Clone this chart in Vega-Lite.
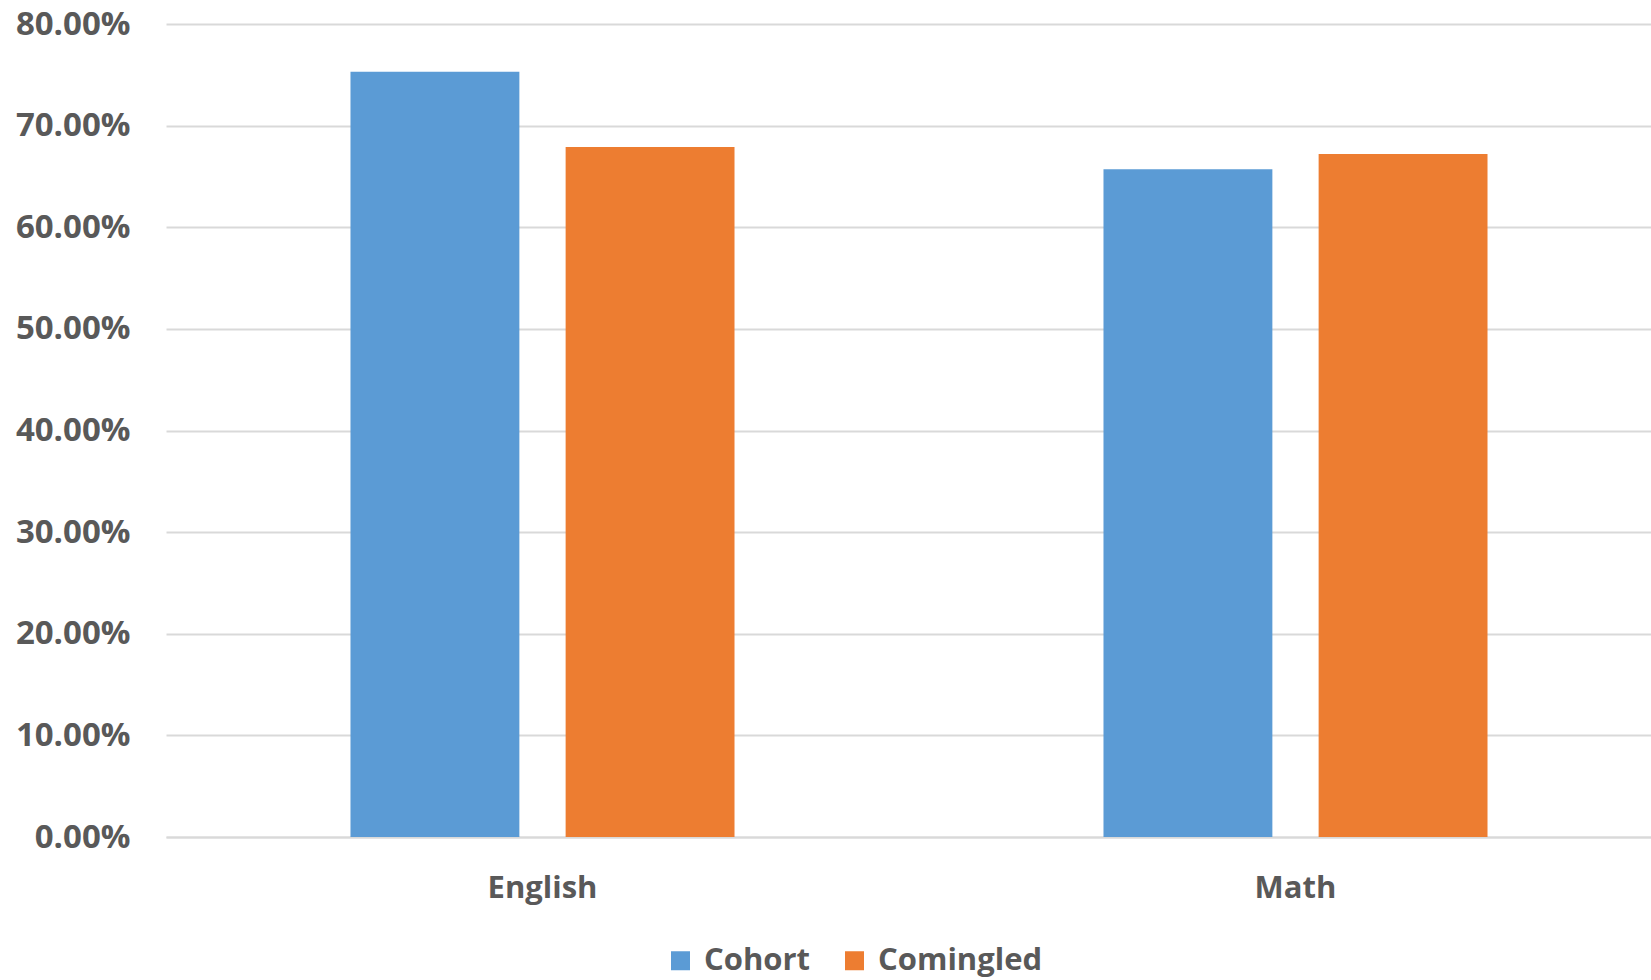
{
  "$schema": "https://vega.github.io/schema/vega-lite/v6.json",
  "width": 1485,
  "height": 813,
  "autosize": {"type": "none"},
  "padding": {"left": 166, "top": 24, "right": 0, "bottom": 143},
  "background": "white",
  "config": {
    "view": {"stroke": null},
    "font": "Open Sans"
  },
  "data": {
    "values": [
      {"subject": "English", "group": "Cohort", "value": 0.753},
      {"subject": "English", "group": "Comingled", "value": 0.679},
      {"subject": "Math", "group": "Cohort", "value": 0.657},
      {"subject": "Math", "group": "Comingled", "value": 0.672}
    ]
  },
  "mark": {"type": "bar"},
  "encoding": {
    "x": {
      "field": "subject",
      "type": "nominal",
      "scale": {"range": [0, 1506], "paddingInner": 0.49, "paddingOuter": 0.245},
      "axis": {
        "title": null,
        "labelAngle": 0,
        "labelFont": "Open Sans",
        "labelFontWeight": "bold",
        "labelFontSize": 31,
        "labelColor": "#595959",
        "labelPadding": 36,
        "ticks": false,
        "domainColor": "#d9d9d9",
        "domainWidth": 2
      }
    },
    "xOffset": {
      "field": "group",
      "type": "nominal",
      "scale": {"paddingInner": 0.215, "paddingOuter": 0}
    },
    "y": {
      "field": "value",
      "type": "quantitative",
      "scale": {"domain": [0, 0.8], "nice": false},
      "axis": {
        "title": null,
        "format": ".2%",
        "values": [0, 0.1, 0.2, 0.3, 0.4, 0.5, 0.6, 0.7, 0.8],
        "domain": false,
        "ticks": false,
        "gridColor": "#d9d9d9",
        "gridWidth": 2,
        "labelFont": "Open Sans",
        "labelFontWeight": "bold",
        "labelFontSize": 33,
        "labelColor": "#595959",
        "labelPadding": 36
      }
    },
    "color": {
      "field": "group",
      "type": "nominal",
      "scale": {"domain": ["Cohort", "Comingled"], "range": ["#5B9BD5", "#ED7D31"]},
      "legend": {
        "title": null,
        "orient": "none",
        "direction": "horizontal",
        "legendX": 499,
        "legendY": 921,
        "symbolType": "square",
        "symbolSize": 361,
        "symbolStrokeWidth": 0,
        "labelFont": "Open Sans",
        "labelFontWeight": "bold",
        "labelFontSize": 31,
        "labelColor": "#595959",
        "labelOffset": 8,
        "labelLimit": 0,
        "columnPadding": 28
      }
    }
  }
}
